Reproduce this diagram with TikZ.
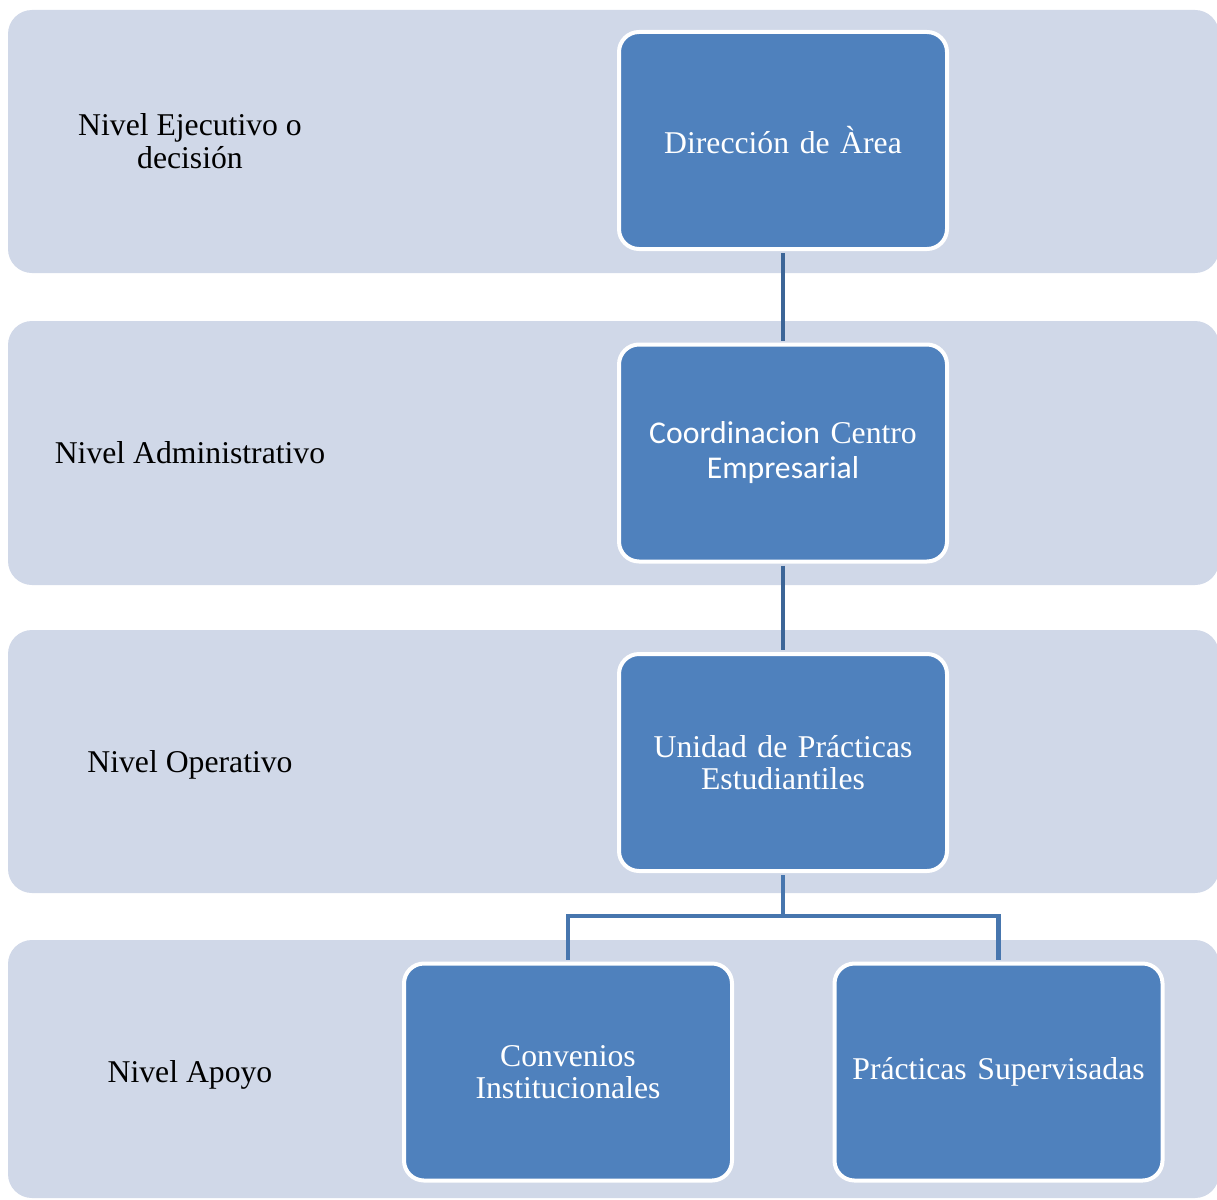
\documentclass[tikz,border=0pt]{standalone}
\usepackage{fontspec}
\setmainfont{Liberation Serif}
\newfontfamily\calib{Carlito}
\definecolor{bandcol}{HTML}{D0D8E8}
\definecolor{boxcol}{HTML}{4F81BD}
\definecolor{connA}{HTML}{3C6597}
\definecolor{connB}{HTML}{4776AE}
\tikzset{
  band/.style={fill=bandcol, rounded corners=24pt},
  unitbox/.style={draw=white, line width=4pt, fill=boxcol, rounded corners=20pt,
    minimum width=328pt, minimum height=217pt, inner sep=0pt, text width=310pt,
    align=center, text=white, font=\fontsize{31.7}{32.5}\selectfont},
  levellabel/.style={text=black, align=center, inner sep=0pt,
    font=\fontsize{31.7}{32.5}\selectfont},
  connector/.style={draw=connA, line width=4.5pt},
  elbow/.style={draw=connB, line width=4.2pt},
}
\begin{document}
\begin{tikzpicture}[x=1pt,y=-1pt]
\clip (0,0) rectangle (1217,1199);
\fill[white] (0,0) rectangle (1217,1199);
% bands
\fill[band] (8,10) rectangle (1219,273);
\fill[band] (8,321) rectangle (1219,585);
\fill[band] (8,630) rectangle (1219,893);
\fill[band] (8,940) rectangle (1219,1198);
% level labels
\node[levellabel] (l1) at (190,141) {Nivel Ejecutivo o\\decisión};
\node[levellabel] (l2) at (190,453) {Nivel Administrativo};
\node[levellabel] (l3) at (190,765) {Nivel Operativo};
\node[levellabel] (l4) at (190,1075) {Nivel Apoyo};
% boxes
\node[unitbox] (b1) at (783,140.5) {\raisebox{2pt}{Dirección de Àrea}};
\node[unitbox, font=\fontsize{31.7}{35}\selectfont] (b2) at (783,453) {{\calib Coordinacion} Centro\\{\calib Empresarial}};
\node[unitbox] (b3) at (783,762.5) {Unidad de Prácticas\\Estudiantiles};
\node[unitbox] (b4) at (568,1072) {Convenios\\Institucionales};
\node[unitbox] (b5) at (998.5,1072) {\raisebox{-2pt}{Prácticas Supervisadas}};
% connectors
\coordinate (split) at (783,916);
\draw[connector, shorten <=2pt, shorten >=2pt] (b1.south) -- (b2.north);
\draw[connector, shorten <=2pt, shorten >=2pt] (b2.south) -- (b3.north);
\draw[elbow, shorten <=2pt] (b3.south) -- (split);
\draw[elbow, shorten >=2pt] (split) -| (b4.north);
\draw[elbow, shorten >=2pt] (split) -| (b5.north);
\end{tikzpicture}
\end{document}
